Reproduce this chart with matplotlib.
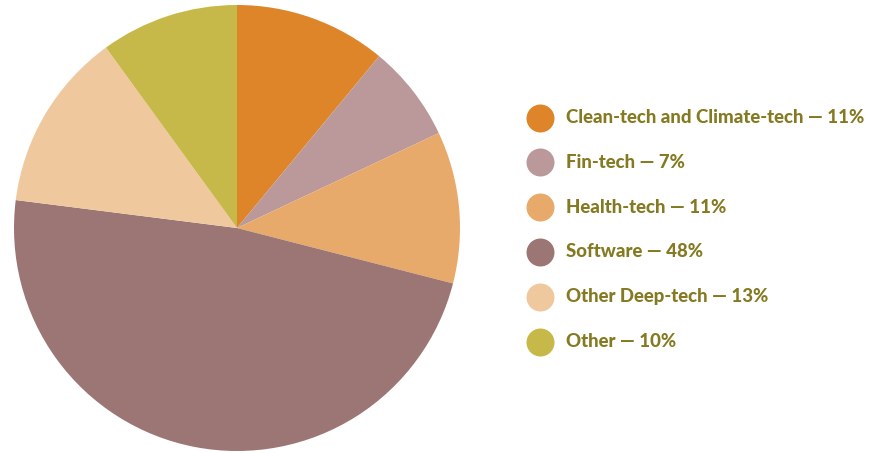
import matplotlib
matplotlib.use("Agg")
import matplotlib.pyplot as plt

# Sector shares
sectors = ["Clean-tech and Climate-tech", "Fin-tech", "Health-tech",
           "Software", "Other Deep-tech", "Other"]
shares = [11, 7, 11, 48, 13, 10]
colors = ["#DE8529", "#BB999A", "#E8AA6B", "#9C7674", "#F0C89E", "#C6B94A"]
text_color = "#857A22"

W, H = 872, 453
fig = plt.figure(figsize=(W / 100, H / 100), dpi=100)

# Pie: centre (237, 228) px, radius 223 px
cx, cy, r = 237, 228, 223
ax = fig.add_axes([(cx - r) / W, (H - cy - r) / H, 2 * r / W, 2 * r / H])
ax.pie(shares, colors=colors, startangle=90, counterclock=False, radius=1,
       wedgeprops=dict(linewidth=0))
ax.set_xlim(-1, 1)
ax.set_ylim(-1, 1)
ax.set_aspect("equal")
ax.axis("off")

# Legend drawn manually
lax = fig.add_axes([0, 0, 1, 1])
lax.set_xlim(0, W)
lax.set_ylim(H, 0)
lax.axis("off")
y0, dy = 117.5, 44.8
for i, (name, val, c) in enumerate(zip(sectors, shares, colors)):
    y = y0 + i * dy
    lax.scatter([540], [y], s=(28 * 0.72) ** 2, color=c, linewidths=0)
    lax.text(566, y, f"{name} \u2014 {val}%", color=text_color,
             fontsize=13.4, fontweight=900, family="Lato",
             va="center", ha="left")

plt.savefig("out.png", dpi=100)
